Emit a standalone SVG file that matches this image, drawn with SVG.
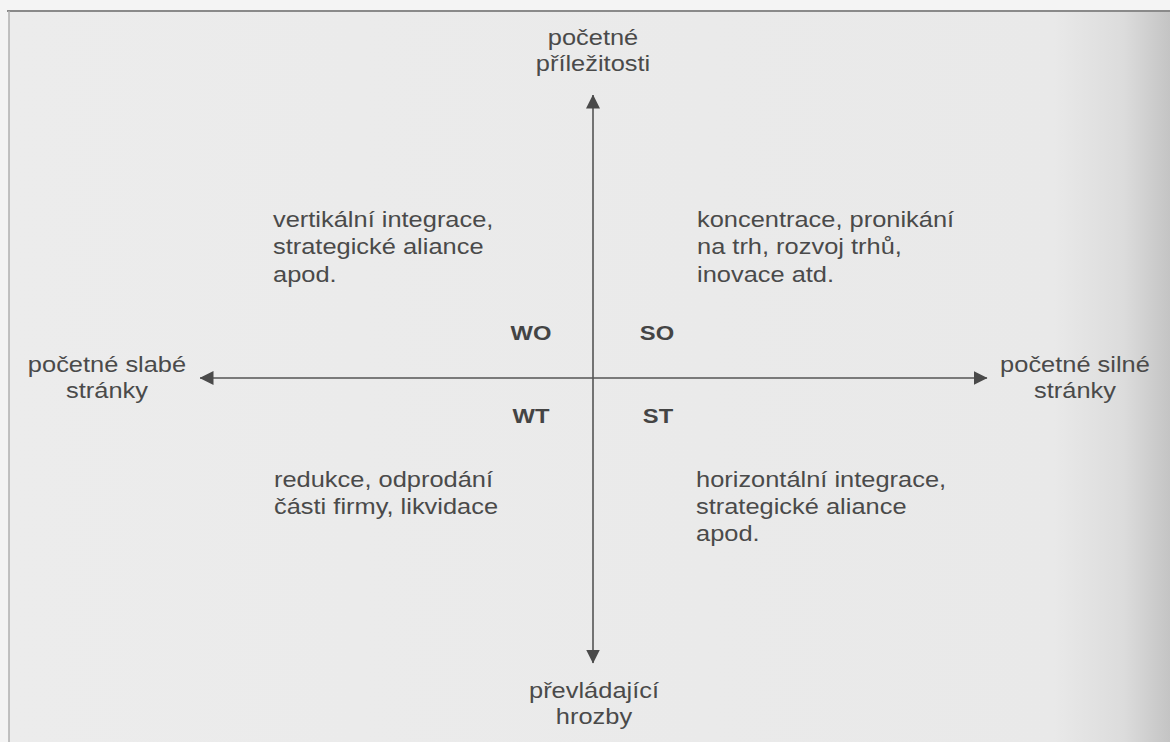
<svg xmlns="http://www.w3.org/2000/svg" width="1170" height="742" viewBox="0 0 1170 742">
  <style>
    .lbl { font-family: "Liberation Sans", Arial, sans-serif; font-size: 22.5px; fill: #4a4a4a; }
    .mid { text-anchor: middle; }
    .code { font-family: "Liberation Sans", Arial, sans-serif; font-size: 21px; font-weight: bold; fill: #444; text-anchor: middle; }
    .axis { stroke: #555; stroke-width: 1.6; fill: none; }
  </style>
  <defs>
    <linearGradient id="paper" x1="0" y1="0" x2="1" y2="0">
      <stop offset="0" stop-color="#ececec"/>
      <stop offset="0.9" stop-color="#e9e9e9"/>
      <stop offset="0.96" stop-color="#dcdcdc"/>
      <stop offset="1" stop-color="#c4c4c4"/>
    </linearGradient>
    <marker id="head" viewBox="0 0 14 14" refX="13.5" refY="7" markerWidth="14" markerHeight="14" markerUnits="userSpaceOnUse" orient="auto">
      <path d="M0,0 L14,7 L0,14 Z" fill="#4a4a4a"/>
    </marker>
  </defs>

  <!-- page -->
  <rect x="0" y="0" width="1170" height="742" fill="#f4f4f4"/>
  <rect x="9" y="11" width="1161" height="731" fill="url(#paper)"/>
  <line x1="7" y1="11" x2="1170" y2="11" stroke="#8a8a8a" stroke-width="2"/>
  <line x1="9" y1="11" x2="9" y2="742" stroke="#b0b0b0" stroke-width="1.5"/>

  <!-- axes -->
  <g id="connectors">
    <line class="axis" x1="593" y1="378" x2="593" y2="95" marker-end="url(#head)"/>
    <line class="axis" x1="593" y1="378" x2="593" y2="663" marker-end="url(#head)"/>
    <line class="axis" x1="593" y1="378" x2="200" y2="378" marker-end="url(#head)"/>
    <line class="axis" x1="593" y1="378" x2="987" y2="378" marker-end="url(#head)"/>
  </g>

  <!-- axis end labels (type set slightly wide) -->
  <g id="opportunities" transform="translate(593 0) scale(1.13 1)">
    <text class="lbl mid" x="0" y="45">početné</text>
    <text class="lbl mid" x="0" y="71">příležitosti</text>
  </g>
  <g id="threats" transform="translate(594 0) scale(1.13 1)">
    <text class="lbl mid" x="0" y="698">převládající</text>
    <text class="lbl mid" x="0" y="724">hrozby</text>
  </g>
  <g id="weaknesses" transform="translate(107 0) scale(1.13 1)">
    <text class="lbl mid" x="0" y="372">početné slabé</text>
    <text class="lbl mid" x="0" y="398">stránky</text>
  </g>
  <g id="strengths" transform="translate(1075 0) scale(1.13 1)">
    <text class="lbl mid" x="0" y="372">početné silné</text>
    <text class="lbl mid" x="0" y="398">stránky</text>
  </g>

  <!-- quadrant codes -->
  <g id="wo" transform="translate(531 0) scale(1.13 1)"><text class="code" x="0" y="340">WO</text></g>
  <g id="so" transform="translate(657 0) scale(1.13 1)"><text class="code" x="0" y="340">SO</text></g>
  <g id="wt" transform="translate(531 0) scale(1.13 1)"><text class="code" x="0" y="423">WT</text></g>
  <g id="st" transform="translate(658 0) scale(1.13 1)"><text class="code" x="0" y="423">ST</text></g>

  <!-- quadrant strategies -->
  <g id="wo-strategy" transform="translate(273 0) scale(1.13 1)">
    <text class="lbl" x="0" y="227">vertikální integrace,</text>
    <text class="lbl" x="0" y="254.5">strategické aliance</text>
    <text class="lbl" x="0" y="282">apod.</text>
  </g>
  <g id="so-strategy" transform="translate(697 0) scale(1.13 1)">
    <text class="lbl" x="0" y="227">koncentrace, pronikání</text>
    <text class="lbl" x="0" y="254.5">na trh, rozvoj trhů,</text>
    <text class="lbl" x="0" y="282">inovace atd.</text>
  </g>
  <g id="wt-strategy" transform="translate(274 0) scale(1.13 1)">
    <text class="lbl" x="0" y="487">redukce, odprodání</text>
    <text class="lbl" x="0" y="514">části firmy, likvidace</text>
  </g>
  <g id="st-strategy" transform="translate(696 0) scale(1.13 1)">
    <text class="lbl" x="0" y="487">horizontální integrace,</text>
    <text class="lbl" x="0" y="514">strategické aliance</text>
    <text class="lbl" x="0" y="541">apod.</text>
  </g>
</svg>
